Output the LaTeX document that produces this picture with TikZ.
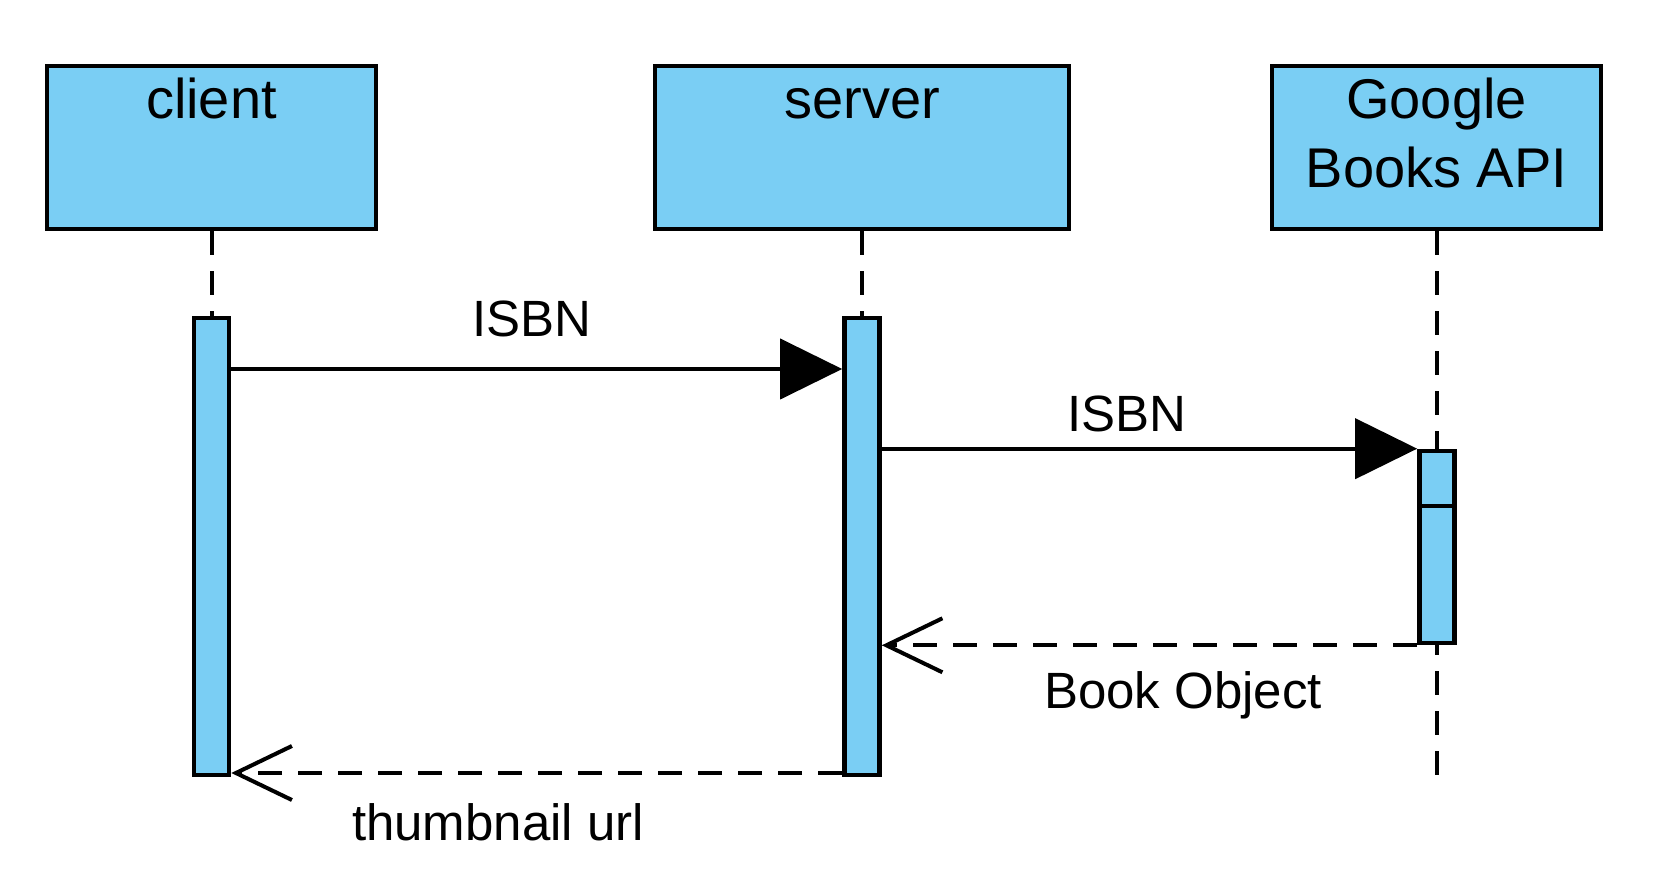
\documentclass[tikz,border=0pt]{standalone}
\usepackage{fontspec}
\setmainfont{Liberation Sans}
\usetikzlibrary{arrows.meta,positioning,calc}
\definecolor{lifeblue}{RGB}{122,206,244}
\tikzset{
  actor/.style  = { draw, line width=2.3pt, fill=lifeblue, inner sep=0pt },
  actname/.style = { anchor=base, align=center, font=\fontsize{28}{34.5}\selectfont },
  bar/.style    = { draw, line width=2.3pt, fill=lifeblue, inner sep=0pt, minimum width=17.5pt },
  lifeline/.style = { line width=2pt, dash pattern=on 12pt off 8pt },
  call/.style   = { line width=2pt, -{Triangle[length=31pt,width=30pt]} },
  reply/.style  = { line width=2pt, dash pattern=on 12pt off 8pt,
    -{Straight Barb[length=28pt,width=27pt,line width=2pt]} },
  msglabel/.style = { anchor=base, font=\fontsize{25.5}{30}\selectfont }
}
\begin{document}
\begin{tikzpicture}[x=0.5pt,y=-0.5pt]
  \useasboundingbox (0,0) rectangle (1676,881);

  % heads
  \node[actor, minimum width=164.5pt, minimum height=81.5pt] (client) at (211.5,147.5) {};
  \node[actor, minimum width=207pt, minimum height=81.5pt] (server) at (862,147.5) {};
  \node[actor, minimum width=164.5pt, minimum height=81.5pt] (google) at (1436.5,147.5) {};
  \node[actname] (clientname) at ($(client.north)+(0,55)$) {client};
  \node[actname] (servername) at ($(server.north)+(0,55)$) {server};
  \node[actname] (googlename) at ($(google.north)+(0,124)$) {Google\\Books API};

  % lifelines
  \coordinate (lend) at (0,777);
  \draw[lifeline] (client.south) -- (client.south |- lend);
  \draw[lifeline] (server.south) -- (server.south |- lend);
  \draw[lifeline] (google.south) -- (google.south |- lend);

  % activations
  \node[bar, minimum height=228.5pt] (cbar) at (211.5,546.5) {};
  \node[bar, minimum height=228.5pt] (sbar) at (862,546.5) {};
  \node[bar, minimum height=27.5pt] (gbartop) at (1437,478.5) {};
  \node[bar, minimum height=68.5pt] (gbar) at (1437,574.5) {};

  % messages
  \coordinate (m1) at (0,369);
  \coordinate (m4) at (0,773);
  \draw[call] (cbar.east |- m1) -- (sbar.west |- m1);
  \draw[call] (sbar.east |- gbartop.north) -- (gbartop.north west);
  \draw[reply] (gbar.south west) -- (sbar.east |- gbar.south);
  \draw[reply] (sbar.west |- m4) -- (cbar.east |- m4);

  \node[msglabel] (isbnone) at (532,337) {ISBN};
  \node[msglabel] (isbntwo) at (1127,432) {ISBN};
  \node[msglabel] (bookobj) at (1183,708) {Book Object};
  \node[msglabel] (thumb) at (498,840) {thumbnail url};
\end{tikzpicture}
\end{document}
